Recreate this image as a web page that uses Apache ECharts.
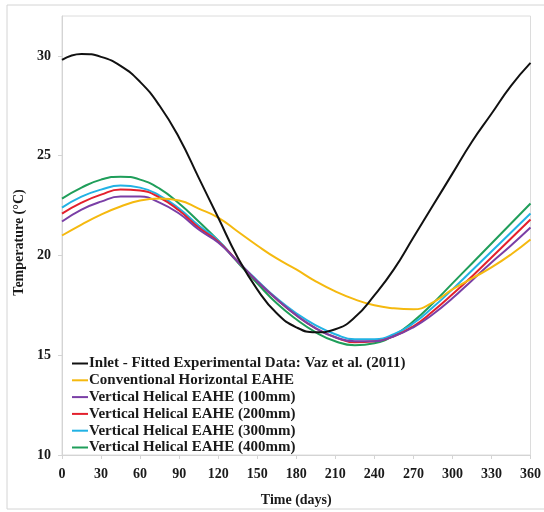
<!DOCTYPE html>
<html>
<head>
<meta charset="utf-8">
<script src="https://cdn.jsdelivr.net/npm/echarts@6/dist/echarts.min.js"></script>
<style>
  html, body { margin: 0; padding: 0; background: #fff; }
  #myChart { width: 544px; height: 512px; }
</style>
</head>
<body>
<div id="myChart"></div>
<script>
// days 0..360, every 15 days
var days = [0, 15, 30, 45, 60, 75, 90, 105, 120, 135, 150, 165, 180, 195, 210, 225, 240, 255, 270, 285, 300, 315, 330, 345, 360];
var yTicks = [10, 15, 20, 25, 30];
var xTicks = [0, 30, 60, 90, 120, 150, 180, 210, 240, 270, 300, 330, 360];

var names = [
  'Inlet - Fitted Experimental Data: Vaz et al. (2011)',
  'Conventional Horizontal EAHE',
  'Vertical Helical EAHE (100mm)',
  'Vertical Helical EAHE (200mm)',
  'Vertical Helical EAHE (300mm)',
  'Vertical Helical EAHE (400mm)'
];
var colors = ['#111111', '#f5b90f', '#7a3fa6', '#e3202c', '#22b2e4', '#1f9e5a'];

var inlet = [29.8, 30.1, 29.95, 29.5, 28.7, 27.5, 25.9, 23.9, 21.9, 19.9, 18.3, 17.1, 16.4, 16.15, 16.3, 16.9, 18.0, 19.3, 20.9, 22.5, 24.1, 25.7, 27.1, 28.5, 29.65];
var horizontal = [21.0, 21.55, 22.05, 22.45, 22.75, 22.85, 22.75, 22.35, 21.9, 21.2, 20.5, 19.85, 19.3, 18.7, 18.2, 17.8, 17.5, 17.35, 17.3, 17.65, 18.3, 18.85, 19.4, 20.05, 20.8];
var helical100 = [21.7, 22.3, 22.7, 22.95, 22.95, 22.65, 22.1, 21.3, 20.65, 19.7, 18.7, 17.8, 17.0, 16.35, 15.9, 15.7, 15.7, 15.95, 16.4, 17.05, 17.85, 18.75, 19.65, 20.5, 21.4];
var helical200 = [22.1, 22.65, 23.05, 23.3, 23.25, 22.9, 22.25, 21.4, 20.7, 19.7, 18.7, 17.8, 17.0, 16.35, 15.9, 15.65, 15.7, 15.95, 16.45, 17.2, 18.05, 18.95, 19.9, 20.85, 21.8];
var helical300 = [22.4, 22.95, 23.3, 23.5, 23.4, 23.0, 22.35, 21.5, 20.75, 19.7, 18.75, 17.85, 17.1, 16.5, 16.05, 15.8, 15.8, 16.05, 16.6, 17.4, 18.3, 19.25, 20.2, 21.15, 22.1];
var helical400 = [22.85, 23.4, 23.8, 23.95, 23.8, 23.35, 22.6, 21.7, 20.75, 19.65, 18.6, 17.6, 16.8, 16.15, 15.7, 15.5, 15.6, 16.0, 16.7, 17.6, 18.6, 19.6, 20.6, 21.6, 22.6];

var allValues = [inlet, horizontal, helical100, helical200, helical300, helical400];

var fontFam = '"Liberation Serif", "DejaVu Serif", serif';

var series = allValues.map(function (vals, i) {
  return {
    name: names[i],
    type: 'line',
    smooth: true,
    symbol: 'none',
    data: days.map(function (d, k) { return [d, vals[k]]; }),
    lineStyle: { color: colors[i], width: 2 },
    itemStyle: { color: colors[i] },
    z: 10 - i
  };
});

var option = {
  backgroundColor: '#fff',
  animation: false,
  graphic: [{
    type: 'rect',
    shape: { x: 7, y: 5, width: 545, height: 504 },
    style: { fill: 'none', stroke: '#d4d4d4', lineWidth: 1 },
    silent: true
  }],
  grid: {
    left: 62, right: 9, top: 16, bottom: 56,
    show: true, borderColor: '#dcdcdc', borderWidth: 1
  },
  legend: {
    orient: 'vertical',
    left: 67, top: 351,
    data: names,
    icon: 'rect',
    itemWidth: 16, itemHeight: 2,
    itemGap: 1.8,
    textStyle: { fontFamily: fontFam, fontWeight: 'bold', fontSize: 15, lineHeight: 14, color: '#1a1a1a', padding: [0, 0, 0, -4] }
  },
  xAxis: {
    type: 'value',
    min: 0, max: 360, interval: 30,
    name: 'Time (days)',
    nameLocation: 'middle',
    nameGap: 38,
    nameTextStyle: { fontFamily: fontFam, fontWeight: 'bold', fontSize: 14, color: '#1a1a1a' },
    axisLine: { lineStyle: { color: '#d4d4d4' } },
    axisTick: { show: true, length: 4, lineStyle: { color: '#d4d4d4' } },
    axisLabel: {
      fontFamily: fontFam, fontWeight: 'bold', fontSize: 14, color: '#1a1a1a', margin: 12,
      formatter: function (v) { return xTicks.indexOf(v) >= 0 ? String(v) : ''; }
    },
    splitLine: { show: false }
  },
  yAxis: {
    type: 'value',
    min: 10, max: 32, interval: 5,
    name: 'Temperature (°C)',
    nameLocation: 'middle',
    nameGap: 35,
    nameRotate: 90,
    nameTextStyle: { fontFamily: fontFam, fontWeight: 'bold', fontSize: 14, color: '#1a1a1a', padding: [0, 0, 0, -14] },
    axisLine: { show: true, lineStyle: { color: '#d4d4d4' } },
    axisTick: { show: true, length: 4, lineStyle: { color: '#d4d4d4' } },
    axisLabel: {
      fontFamily: fontFam, fontWeight: 'bold', fontSize: 14, color: '#1a1a1a', margin: 11,
      showMaxLabel: false,
      formatter: function (v) { return yTicks.indexOf(v) >= 0 ? String(v) : ''; }
    },
    splitLine: { show: false }
  },
  series: series
};

var myChart = echarts.init(document.getElementById('myChart'));
myChart.setOption(option);
</script>
</body>
</html>
